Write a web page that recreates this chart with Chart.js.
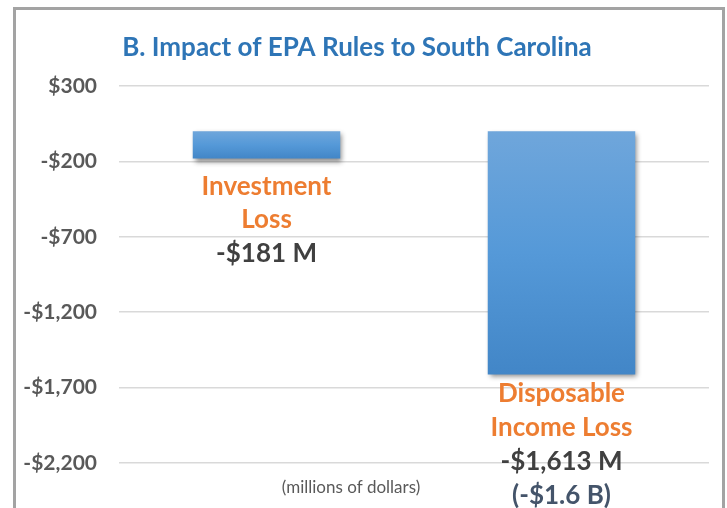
<!DOCTYPE html>
<html>
<head>
<meta charset="utf-8">
<script src="https://cdn.jsdelivr.net/npm/chart.js@4"></script>
<style>
html,body{margin:0;padding:0;background:#fff;overflow:hidden;}
#wrap{position:relative;width:727px;height:508px;}
#frame{position:absolute;left:13px;top:7px;width:706px;height:600px;border:3px solid #a3a3a3;pointer-events:none;}
</style>
</head>
<body>
<div id="wrap">
<canvas id="c" width="727" height="508"></canvas>
<div id="frame"></div>
</div>
<script>
const categories = ['Investment Loss', 'Disposable Income Loss'];
const values = [-181, -1613];
const categoryLines = [['Investment', 'Loss'], ['Disposable', 'Income Loss']];
const valueLabels = ['-$181 M', '-$1,613 M'];
const extraLabels = [null, '(-$1.6 B)'];
const titleText = 'B. Impact of EPA Rules to South Carolina';
const unitNote = '(millions of dollars)';
const yMin = -2200, yMax = 300, yStep = 500;

const FONT = 'Lato, "Open Sans", sans-serif';
const labelOffsets = [28, 19];
const lineSteps = [33.5, 34];

function fmt(v){
  const s = Math.abs(v).toLocaleString('en-US');
  return (v < 0 ? '-$' : '$') + s;
}

const overlay = {
  id: 'overlay',
  beforeDatasetsDraw(chart){
    const ctx = chart.ctx;
    ctx.save();
    ctx.shadowColor = 'rgba(0,0,0,0.45)';
    ctx.shadowBlur = 5;
    ctx.shadowOffsetX = 2;
    ctx.shadowOffsetY = 3;
  },
  afterDatasetsDraw(chart){
    const ctx = chart.ctx;
    ctx.restore();
    ctx.save();
    ctx.font = 'bold 26px ' + FONT;
    ctx.fillStyle = '#2E75B6';
    ctx.textAlign = 'center';
    ctx.textBaseline = 'middle';
    ctx.fillText(titleText, 357, 48);
    const meta = chart.getDatasetMeta(0);
    meta.data.forEach((bar, i) => {
      let y = bar.y + labelOffsets[i];
      const step = lineSteps[i];
      ctx.font = 'bold 26px ' + FONT;
      ctx.fillStyle = '#ED7D31';
      categoryLines[i].forEach(line => { ctx.fillText(line, bar.x, y); y += step; });
      ctx.fillStyle = '#404040';
      ctx.fillText(valueLabels[i], bar.x, y); y += step;
      if (extraLabels[i]) { ctx.fillStyle = '#44546A'; ctx.fillText(extraLabels[i], bar.x, y); }
    });
    ctx.font = '17px ' + FONT;
    ctx.fillStyle = '#595959';
    ctx.fillText(unitNote, 351, 488);
    ctx.restore();
  }
};

function barGradient(context){
  const chart = context.chart;
  const ys = chart.scales && chart.scales.y;
  if (!chart.chartArea || !ys) return '#5B9BD5';
  const v = context.raw;
  const y0 = ys.getPixelForValue(0), y1 = ys.getPixelForValue(v);
  if (!isFinite(y0) || !isFinite(y1) || y0 === y1) return '#5B9BD5';
  const g = chart.ctx.createLinearGradient(0, Math.min(y0,y1), 0, Math.max(y0,y1));
  g.addColorStop(0, '#6FA6DB');
  g.addColorStop(0.5, '#5599D8');
  g.addColorStop(1, '#4286C7');
  return g;
}

new Chart(document.getElementById('c'), {
  type: 'bar',
  data: {
    labels: categories,
    datasets: [{ data: values, backgroundColor: barGradient, borderWidth: 0, categoryPercentage: 1, barPercentage: 0.5 }]
  },
  options: {
    responsive: false,
    animation: false,
    devicePixelRatio: 1,
    layout: { padding: { top: 86, bottom: 45, left: 0, right: 18 } },
    plugins: { legend: { display: false }, tooltip: { enabled: false }, title: { display: false } },
    scales: {
      x: { display: false },
      y: {
        min: yMin, max: yMax,
        border: { display: false },
        grid: { color: '#d9d9d9', lineWidth: 1.5, drawTicks: false },
        afterFit(scale){ scale.width = 119; },
        ticks: {
          stepSize: yStep,
          padding: 22,
          color: '#595959',
          font: { family: FONT, size: 21, weight: 'bold' },
          callback: v => fmt(v)
        }
      }
    }
  },
  plugins: [overlay]
});
</script>
</body>
</html>
